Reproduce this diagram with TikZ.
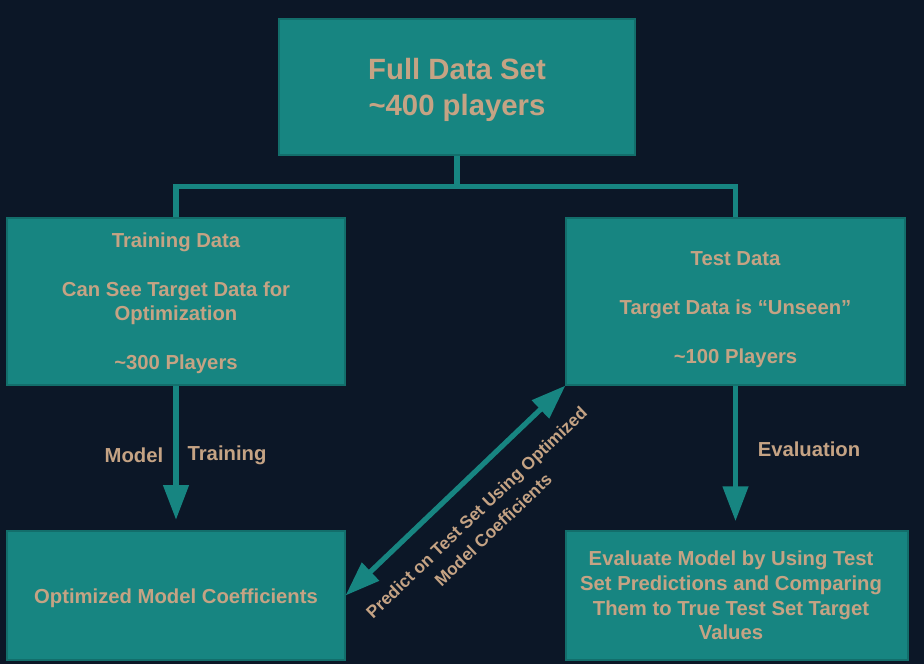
\documentclass[tikz,border=0pt]{standalone}
\usepackage{fontspec}
\setmainfont{Liberation Sans}
\usetikzlibrary{arrows.meta}
\definecolor{bgc}{HTML}{0C1727}
\definecolor{boxc}{HTML}{178581}
\definecolor{boxd}{HTML}{136E6B}
\definecolor{txtc}{HTML}{C5A384}
\tikzset{
  box/.style={fill=boxc, draw=boxd, line width=0.8pt, inner sep=0pt},
  btxt/.style={inner sep=0pt, align=center, text=txtc, font=\bfseries\fontsize{15.2}{18.4}\selectfont},
  conn/.style={draw=boxc, line width=3.9pt},
  arr/.style={conn, -{Triangle[width=18.5pt,length=26pt]}},
  darr/.style={conn, {Triangle[width=18pt,length=26pt]}-{Triangle[width=18pt,length=26pt]}},
  lbl/.style={text=txtc, font=\bfseries\fontsize{15.2}{18}\selectfont, inner sep=0pt, align=center},
}
\begin{document}
\begin{tikzpicture}[x=0.75pt, y=-0.75pt]
\fill[bgc] (0,0) rectangle (924,664);
\useasboundingbox (0,0) rectangle (924,664);

\node[box, minimum width=267pt, minimum height=102pt] (top) at (457,87) {};
\node[btxt, font=\bfseries\fontsize{22}{27}\selectfont] (toptxt) at ([yshift=-2.2pt]top.center)
  {Full Data Set\\\textasciitilde400 players\hspace{12pt}};
\node[box, minimum width=253.5pt, minimum height=125.25pt] (train) at (176,301.5) {};
\node[btxt] (traintxt) at ([yshift=-1.2pt]train.center)
  {Training Data\\[18.4pt]Can See Target Data for\\Optimization\\[18.4pt]\textasciitilde300 Players};
\node[box, minimum width=254.25pt, minimum height=125.25pt] (test) at (735.5,301.5) {};
\node[btxt] (testtxt) at ([yshift=-6pt]test.center)
  {Test Data\\[18.4pt]Target Data is “Unseen”\\[18.4pt]\textasciitilde100 Players};
\node[box, minimum width=253.5pt, minimum height=96.75pt] (opt) at (176,595.5) {};
\node[btxt] (opttxt) at ([yshift=-2pt]opt.center) {Optimized Model Coefficients};
\node[box, minimum width=256.5pt, minimum height=96.75pt] (eval) at (737,595.5) {};
\node[btxt] (evaltxt) at ([xshift=-4.5pt]eval.center)
  {Evaluate Model by Using Test\\Set Predictions and Comparing\\Them to True Test Set Target\\Values};

% split connector
\draw[conn] (top.south) -- ++(0,31) coordinate (j);
\draw[conn] (train.north) -- (train.north |- j) -- (test.north |- j) -- (test.north);

% arrows
\draw[arr, shorten >=8pt] (train.south) -- (opt.north);
\draw[arr, shorten >=7pt] (test.south) -- (test.south |- eval.north);
\draw[darr] (opt.east) -- node[midway, sloped, below=16pt, lbl, font=\bfseries\fontsize{13}{18}\selectfont]
  {Predict on Test Set Using Optimized\\Model Coefficients} (test.south west);

% labels
\node[lbl] (lm) at (134,455) {Model};
\node[lbl] (lt) at (227,455) {Training};
\node[lbl] (le) at (809,449) {Evaluation};
\end{tikzpicture}
\end{document}
